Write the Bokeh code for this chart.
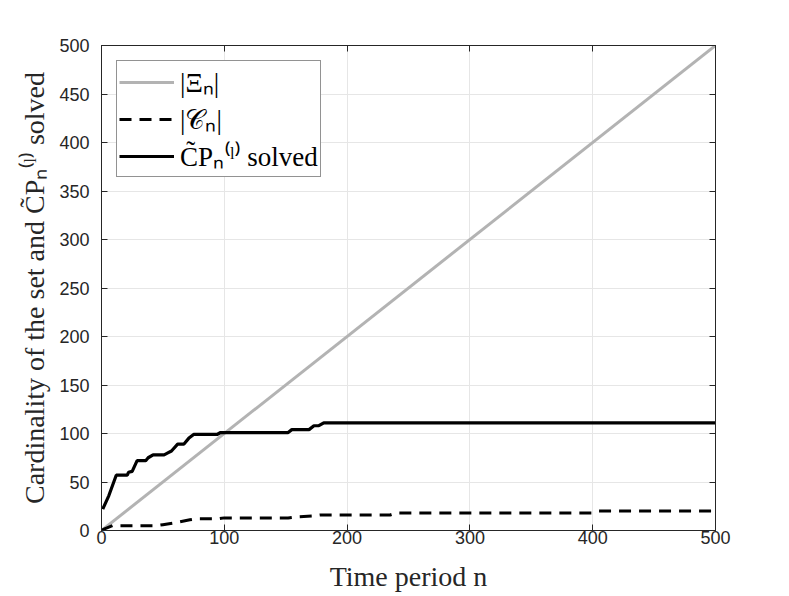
from bokeh.plotting import figure
from bokeh.models import LinearAxis, Range1d, Legend, LegendItem, FixedTicker, CustomJSTickFormatter
from bokeh.embed import file_html
from bokeh.resources import INLINE

# |Xi_n| : grows one per period
xi_n = [0, 500]
xi_card = [0, 500]

# |C_n|
c_n = [0, 3, 9, 45, 50, 55, 60, 72, 77, 95, 100, 152, 158, 172, 178, 235, 240, 400, 405, 500]
c_card = [0, 2, 5, 5, 6, 7, 8, 11, 12, 12, 13, 13, 14, 15, 16, 16, 18, 18, 20, 20]

# CP_n^(l) solved
cp_n = [1, 6, 12, 21, 22, 25, 29, 36, 38, 42, 51, 54, 57, 62, 67, 71, 75, 94, 97, 152, 155, 169, 173, 177, 181, 500]
cp_card = [22, 36, 57, 57, 60, 61, 72, 72, 75, 78, 78, 80, 82, 89, 89, 95, 99, 99, 101, 101, 104, 104, 108, 108, 111, 111]

x_ticks = [0, 100, 200, 300, 400, 500]
y_ticks = [0, 50, 100, 150, 200, 250, 300, 350, 400, 450, 500]

labels = ["|Ξ\u2099|", "|𝒞\u2099|", "C\u0303P\u2099\u207d\u02e1\u207e solved"]

AX = "#262626"

p = figure(frame_width=614, frame_height=485,
           min_border_left=101, min_border_right=74, min_border_top=45, min_border_bottom=66,
           x_range=Range1d(0, 500), y_range=Range1d(0, 500),
           output_backend="svg", toolbar_location=None, background_fill_color="white")

p.outline_line_color = AX
p.outline_line_width = 1

r_xi = p.line(xi_n, xi_card, line_color="#b3b3b3", line_width=3)
r_c = p.line(c_n, c_card, line_color="black", line_width=3, line_dash="12 8")
r_cp = p.line(cp_n, cp_card, line_color="black", line_width=3.2)

p.xaxis.ticker = FixedTicker(ticks=x_ticks)
p.yaxis.ticker = FixedTicker(ticks=y_ticks)
p.xgrid.ticker = FixedTicker(ticks=x_ticks)
p.ygrid.ticker = FixedTicker(ticks=y_ticks)
p.grid.grid_line_color = "#e6e6e6"
p.grid.grid_line_width = 1

p.xaxis.axis_label = "Time period n"
p.yaxis.axis_label = "Cardinality of the set and C\u0303P\u2099\u207d\u02e1\u207e solved"

for ax in [p.xaxis[0], p.yaxis[0]]:
    ax.axis_line_color = AX
    ax.major_tick_line_color = AX
    ax.major_tick_in = 6
    ax.major_tick_out = 0
    ax.minor_tick_line_color = None
    ax.major_label_text_font = "Liberation Sans"
    ax.major_label_text_font_size = "18px"
    ax.major_label_text_color = AX
    ax.axis_label_text_font = "Liberation Serif"
    ax.axis_label_text_font_size = "28px"
    ax.axis_label_text_font_style = "normal"
    ax.axis_label_text_color = AX

p.xaxis.major_label_standoff = 0
p.xaxis.axis_label_standoff = 14
p.yaxis.major_label_standoff = 12
p.yaxis.axis_label_standoff = 6

blank = CustomJSTickFormatter(code="return ''")
top = LinearAxis(ticker=FixedTicker(ticks=x_ticks), formatter=blank)
right = LinearAxis(ticker=FixedTicker(ticks=y_ticks), formatter=blank)
for ax in [top, right]:
    ax.axis_line_color = AX
    ax.major_tick_line_color = AX
    ax.major_tick_in = 6
    ax.major_tick_out = 0
    ax.minor_tick_line_color = None
    ax.major_label_standoff = 0
p.add_layout(top, "above")
p.add_layout(right, "right")

legend = Legend(items=[LegendItem(label=labels[0], renderers=[r_xi]),
                       LegendItem(label=labels[1], renderers=[r_c]),
                       LegendItem(label=labels[2], renderers=[r_cp])],
                location="top_left")
legend.margin = 15
legend.padding = 2
legend.spacing = -5
legend.glyph_width = 55
legend.glyph_height = 28
legend.label_height = 28
legend.label_standoff = 6
legend.label_text_font = "Liberation Serif"
legend.label_text_font_size = "27px"
legend.label_text_color = "black"
legend.border_line_color = AX
legend.border_line_width = 1
legend.background_fill_color = "white"
legend.background_fill_alpha = 1
p.add_layout(legend)

open("out.html", "w").write(file_html(p, INLINE))
